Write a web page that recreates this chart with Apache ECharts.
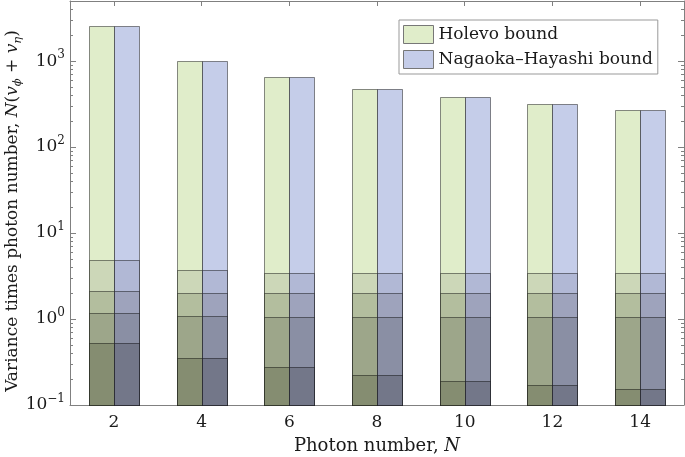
<!DOCTYPE html>
<html><head><meta charset="utf-8">
<script src="https://cdn.jsdelivr.net/npm/echarts@6/dist/echarts.min.js"></script>
<style>html,body{margin:0;padding:0;background:#fff}#c{width:685px;height:457px}</style>
</head><body><div id="c"></div>
<script>
// ---- data ----
const categories = ['2', '4', '6', '8', '10', '12', '14'];
const holevo = [2530, 1010, 647, 478, 378, 316, 273];
const nagaokaHayashi = [2530, 1010, 647, 478, 378, 316, 273];
const layer1 = [4.8, 3.68, 3.45, 3.4, 3.4, 3.4, 3.4];
const layer2 = [2.1, 2.02, 1.99, 1.99, 1.99, 1.99, 1.99];
const layer3 = [1.18, 1.07, 1.05, 1.05, 1.05, 1.05, 1.05];
const layer4 = [0.53, 0.356, 0.277, 0.226, 0.19, 0.17, 0.152];
const yTickValues = [0.1, 1, 10, 100, 1000];
const yMinorValues = [0.2, 0.3, 0.4, 0.5, 0.6, 0.7, 0.8, 0.9,
  2, 3, 4, 5, 6, 7, 8, 9, 20, 30, 40, 50, 60, 70, 80, 90,
  200, 300, 400, 500, 600, 700, 800, 900, 2000, 3000, 4000];

// ---- styles ----
const F = 'DejaVu Serif';
const TXT = '#1a1a1a';
const FRAME = '#808080';
const Y_MIN = 0.1, Y_MAX = 5000;
const greenColors = ['#E0EDCA', '#CCD7B8', '#B3BE9E', '#9DA68A', '#858D71'];
const blueColors = ['#C5CDE9', '#B1B8D5', '#9EA3BC', '#8A8FA4', '#737789'];

const greenData = categories.map((c, i) => [i, holevo[i], layer1[i], layer2[i], layer3[i], layer4[i]]);
const blueData = categories.map((c, i) => [i, nagaokaHayashi[i], layer1[i], layer2[i], layer3[i], layer4[i]]);

function makeRender(side, colors) {
  return function (params, api) {
    const xi = api.value(0);
    const base = api.coord([xi, Y_MIN]);
    const band = api.size([1, 0])[0];
    const w = band * 0.285;
    const children = [];
    for (let k = 1; k <= 5; k++) {
      const p = api.coord([xi, api.value(k)]);
      const x0 = side === 0 ? p[0] - w : p[0];
      children.push({
        type: 'rect',
        shape: { x: Math.round(x0) + 0.5, y: Math.round(p[1]) + 0.5, width: Math.round(w), height: Math.round(base[1]) - Math.round(p[1]) },
        style: { fill: colors[k - 1], stroke: 'rgba(0,0,0,0.45)', lineWidth: 1 }
      });
    }
    return { type: 'group', children };
  };
}

function expLabel(v) {
  const e = String(Math.round(Math.log10(v))).replace('-', '\u2212');
  return '{b|10}{e|' + e + '}';
}

const chart = echarts.init(document.getElementById('c'), null, { renderer: 'canvas' });
chart.setOption({
  animation: false,
  backgroundColor: '#fff',
  grid: { left: 70, right: 1, top: 1, bottom: 52, containLabel: false, outerBoundsMode: 'none' },
  legend: {
    orient: 'vertical', left: 399, top: 20,
    itemWidth: 30, itemHeight: 18, itemGap: 6,
    padding: [5, 5, 5, 4],
    borderColor: '#999', borderWidth: 1, backgroundColor: '#fff',
    textStyle: { fontFamily: F, fontSize: 17, color: TXT },
    data: [
      { name: 'Holevo bound', icon: 'rect', itemStyle: { color: greenColors[0], borderColor: '#777', borderWidth: 1 } },
      { name: 'Nagaoka\u2013Hayashi bound', icon: 'rect', itemStyle: { color: blueColors[0], borderColor: '#777', borderWidth: 1 } }
    ]
  },
  xAxis: [
    {
      type: 'category', data: categories, position: 'bottom', boundaryGap: true,
      axisLine: { show: true, lineStyle: { color: FRAME, width: 1 } },
      axisTick: { show: true, inside: true, alignWithLabel: true, length: 5, lineStyle: { color: FRAME } },
      axisLabel: { fontFamily: F, fontSize: 17, color: TXT, margin: 9 },
      splitLine: { show: false },
      name: 'Photon number, {i|N}', nameLocation: 'middle', nameGap: 32, nameMoveOverlap: false,
      nameTextStyle: { fontFamily: F, fontSize: 18, color: TXT,
        rich: { i: { fontFamily: F, fontSize: 18, fontStyle: 'italic', color: TXT } } }
    },
    {
      type: 'category', data: categories, position: 'top', boundaryGap: true,
      axisLine: { show: true, lineStyle: { color: FRAME, width: 1 } },
      axisTick: { show: true, inside: true, alignWithLabel: true, length: 5, lineStyle: { color: FRAME } },
      axisLabel: { show: false }, splitLine: { show: false }
    }
  ],
  yAxis: [
    {
      type: 'log', logBase: 10, min: Y_MIN, max: Y_MAX, position: 'left',
      axisLine: { show: true, lineStyle: { color: FRAME, width: 1 } },
      axisTick: { show: true, inside: true, length: 6, customValues: yTickValues, lineStyle: { color: FRAME } },
      axisLabel: {
        customValues: yTickValues, margin: 5, formatter: expLabel,
        rich: {
          b: { fontFamily: F, fontSize: 17, color: TXT, lineHeight: 24 },
          e: { fontFamily: F, fontSize: 12, color: TXT, lineHeight: 14, verticalAlign: 'top' }
        }
      },
      splitLine: { show: false },
      name: 'Variance times photon number, {i|N}({i|v}{s|\u03D5} + {i|v}{s|\u03B7})',
      nameLocation: 'middle', nameGap: 46, nameMoveOverlap: false,
      nameTextStyle: { fontFamily: F, fontSize: 17, color: TXT, lineHeight: 22, padding: [0, 16, 0, 0],
        rich: {
          i: { fontFamily: F, fontSize: 17, fontStyle: 'italic', color: TXT, lineHeight: 22 },
          s: { fontFamily: F, fontSize: 11.5, fontStyle: 'italic', color: TXT, lineHeight: 13, verticalAlign: 'bottom' }
        } }
    },
    {
      type: 'log', logBase: 10, min: Y_MIN, max: Y_MAX, position: 'left',
      axisLine: { show: false },
      axisTick: { show: true, inside: true, length: 3, customValues: yMinorValues, lineStyle: { color: FRAME } },
      axisLabel: { show: false }, splitLine: { show: false }
    },
    {
      type: 'log', logBase: 10, min: Y_MIN, max: Y_MAX, position: 'right',
      axisLine: { show: true, lineStyle: { color: FRAME, width: 1 } },
      axisTick: { show: true, inside: true, length: 6, customValues: yTickValues, lineStyle: { color: FRAME } },
      axisLabel: { show: false }, splitLine: { show: false }
    },
    {
      type: 'log', logBase: 10, min: Y_MIN, max: Y_MAX, position: 'right',
      axisLine: { show: false },
      axisTick: { show: true, inside: true, length: 3, customValues: yMinorValues, lineStyle: { color: FRAME } },
      axisLabel: { show: false }, splitLine: { show: false }
    }
  ],
  series: [
    {
      name: 'Holevo bound', type: 'custom', xAxisIndex: 0, yAxisIndex: 0,
      itemStyle: { color: greenColors[0] },
      encode: { x: 0, y: [1, 2, 3, 4, 5] },
      renderItem: makeRender(0, greenColors), data: greenData
    },
    {
      name: 'Nagaoka\u2013Hayashi bound', type: 'custom', xAxisIndex: 0, yAxisIndex: 0,
      itemStyle: { color: blueColors[0] },
      encode: { x: 0, y: [1, 2, 3, 4, 5] },
      renderItem: makeRender(1, blueColors), data: blueData
    }
  ]
});
</script></body></html>
